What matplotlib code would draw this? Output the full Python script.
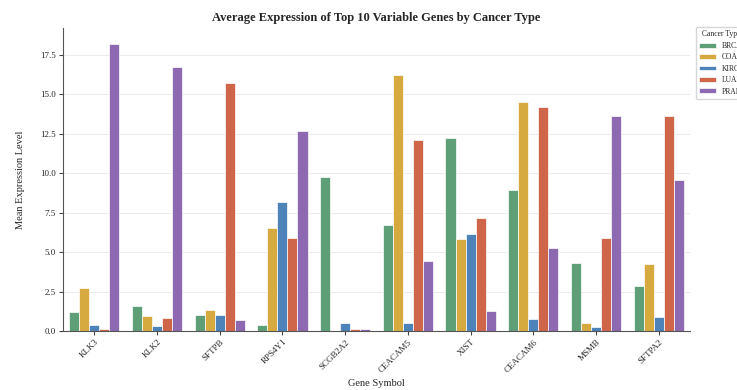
"""
Grouped bar chart of mean expression for the most variable genes per cancer type.
"""
import numpy as np
import matplotlib.pyplot as plt
import seaborn as sns

genes = ["KLK3", "KLK2", "SFTPB", "RPS4Y1", "SCGB2A2",
         "CEACAM5", "XIST", "CEACAM6", "MSMB", "SFTPA2"]
cancer_types = ["BRCA", "COAD", "KIRC", "LUAD", "PRAD"]

brca = [1.22, 1.56, 1.01, 0.38, 9.79, 6.70, 12.20, 8.95, 4.34, 2.86]
coad = [2.74, 0.97, 1.33, 6.53, 0.02, 16.20, 5.81, 14.50, 0.53, 4.27]
kirc = [0.38, 0.32, 1.01, 8.17, 0.53, 0.53, 6.17, 0.76, 0.27, 0.90]
luad = [0.13, 0.80, 15.70, 5.90, 0.10, 12.10, 7.18, 14.20, 5.90, 13.60]
prad = [18.20, 16.74, 0.69, 12.70, 0.10, 4.42, 1.28, 5.29, 13.60, 9.58]

colors = ["#5f9f78", "#d6aa3e", "#4d83b8", "#cf6549", "#8c69b0"]

sns.set_theme(style="whitegrid")
plt.rcParams["font.family"] = ["Liberation Serif", "DejaVu Serif"]

fig = plt.figure(figsize=(7.37, 3.9), dpi=100)
ax = fig.add_axes([63 / 737, 59 / 390, 627 / 737, 303 / 390])

series = [brca, coad, kirc, luad, prad]
x = np.arange(len(genes))
width = 0.8 / len(series)
for i, (name, vals) in enumerate(zip(cancer_types, series)):
    ax.bar(x - 0.4 + width * (i + 0.5), vals, width=width, color=colors[i],
           edgecolor="white", linewidth=0.5, label=name)

ax.set_xlim(-0.5, len(genes) - 0.5)
ax.set_ylim(0, 19.2)
ax.set_yticks(np.arange(0, 19, 2.5))
ax.set_xticks(x)
ax.set_xticklabels(genes, rotation=45, ha="right", rotation_mode="anchor")
ax.tick_params(axis="both", labelsize=6.5, length=3, width=0.8, color="#444444",
               bottom=True, left=True, pad=2)
ax.grid(axis="x", visible=False)
ax.grid(axis="y", color="#ebebeb", linewidth=0.7)
sns.despine(ax=ax)
for side in ["left", "bottom"]:
    ax.spines[side].set_color("#555555")
    ax.spines[side].set_linewidth(0.8)

ax.set_title("Average Expression of Top 10 Variable Genes by Cancer Type",
             fontsize=9, fontweight="bold", pad=5)
ax.set_xlabel("Gene Symbol", fontsize=7.5, labelpad=4)
ax.set_ylabel("Mean Expression Level", fontsize=7.5, labelpad=11)

ax.legend(title="Cancer Type", loc="upper left", bbox_to_anchor=(1.003, 1.015),
          fontsize=5.5, title_fontsize=5.5, frameon=True, handlelength=2.2,
          handleheight=0.6, borderpad=0.4, labelspacing=0.45)

fig.savefig("out.png", dpi=100)
